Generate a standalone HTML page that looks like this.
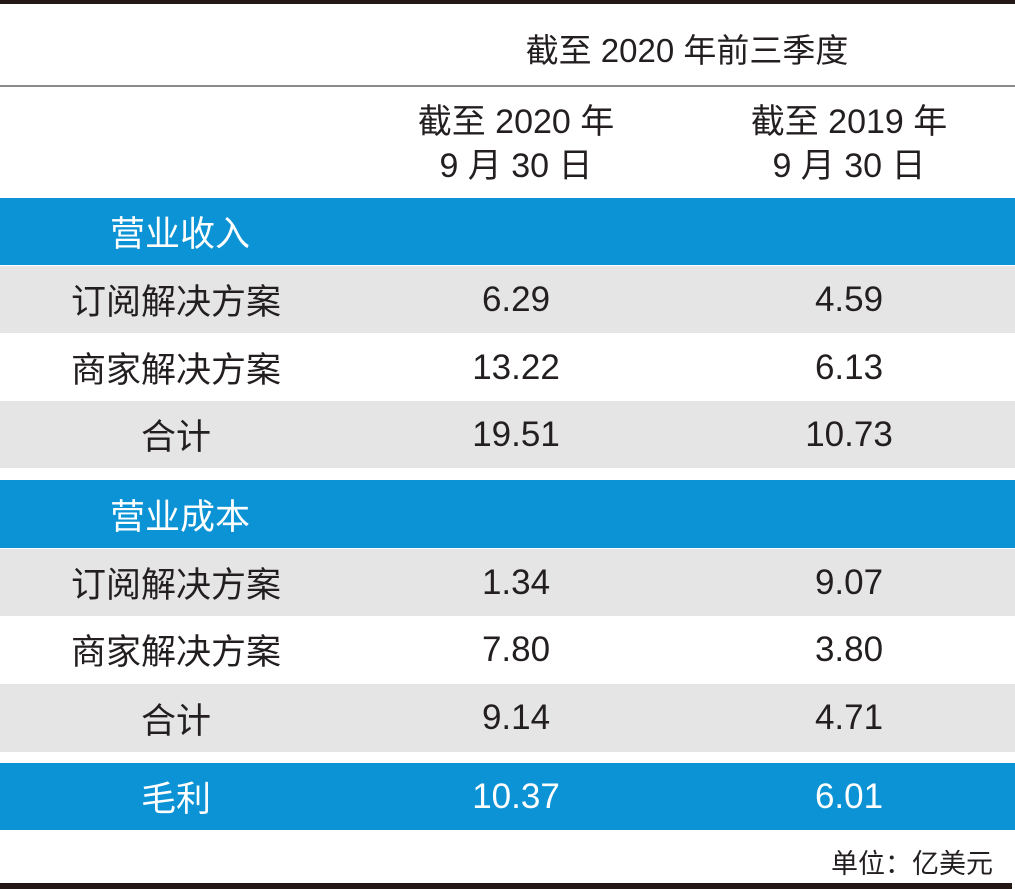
<!DOCTYPE html>
<html><head><meta charset="utf-8">
<style>
body{margin:0;width:1015px;height:889px;background:#fff;position:relative;overflow:hidden;font-family:"Liberation Sans","Noto Sans CJK SC",sans-serif;color:#231f20}
.a{position:absolute}
.row{position:absolute;left:0;width:1015px;height:67px}
.c{position:absolute;top:0;height:100%;display:flex;align-items:center;justify-content:center;font-size:35px;white-space:nowrap}
.l{left:76px;width:200px}.v1{left:416px;width:200px}.v2{left:749px;width:200px}
.blue{background:#0b93d5;color:#fff}.gray{background:#e5e5e5}
.w{color:#fff}
</style></head><body>
<div class="a" style="left:0;top:0;width:1015px;height:4px;background:#231815"></div>
<div class="a" style="left:487px;top:24px;width:400px;text-align:center;font-size:33px">截至 2020 年前三季度</div>
<div class="a" style="left:0;top:85px;width:1015px;height:2px;background:#8a8a8a"></div>
<div class="a" style="left:366px;top:100px;width:300px;text-align:center;font-size:34px;line-height:44px">截至 2020 年<br>9 月 30 日</div>
<div class="a" style="left:699px;top:100px;width:300px;text-align:center;font-size:34px;line-height:44px">截至 2019 年<br>9 月 30 日</div>

<div class="row blue" style="top:198px"><div class="c l w" style="left:80px">营业收入</div></div>
<div class="row gray" style="top:266px"><div class="c l">订阅解决方案</div><div class="c v1">6.29</div><div class="c v2">4.59</div></div>
<div class="row" style="top:334px"><div class="c l">商家解决方案</div><div class="c v1">13.22</div><div class="c v2">6.13</div></div>
<div class="row gray" style="top:401px"><div class="c l">合计</div><div class="c v1">19.51</div><div class="c v2">10.73</div></div>

<div class="row blue" style="top:480px;height:68px"><div class="c l w" style="left:80px">营业成本</div></div>
<div class="row gray" style="top:549px"><div class="c l">订阅解决方案</div><div class="c v1">1.34</div><div class="c v2">9.07</div></div>
<div class="row" style="top:616px"><div class="c l">商家解决方案</div><div class="c v1">7.80</div><div class="c v2">3.80</div></div>
<div class="row gray" style="top:684px;height:68px"><div class="c l">合计</div><div class="c v1">9.14</div><div class="c v2">4.71</div></div>

<div class="row blue" style="top:763px"><div class="c l w">毛利</div><div class="c v1 w">10.37</div><div class="c v2 w">6.01</div></div>

<div class="a" style="right:22px;top:842px;font-size:27px">单位：亿美元</div>
<div class="a" style="left:0;top:883px;width:1012px;height:6px;background:#231815"></div>
</body></html>
